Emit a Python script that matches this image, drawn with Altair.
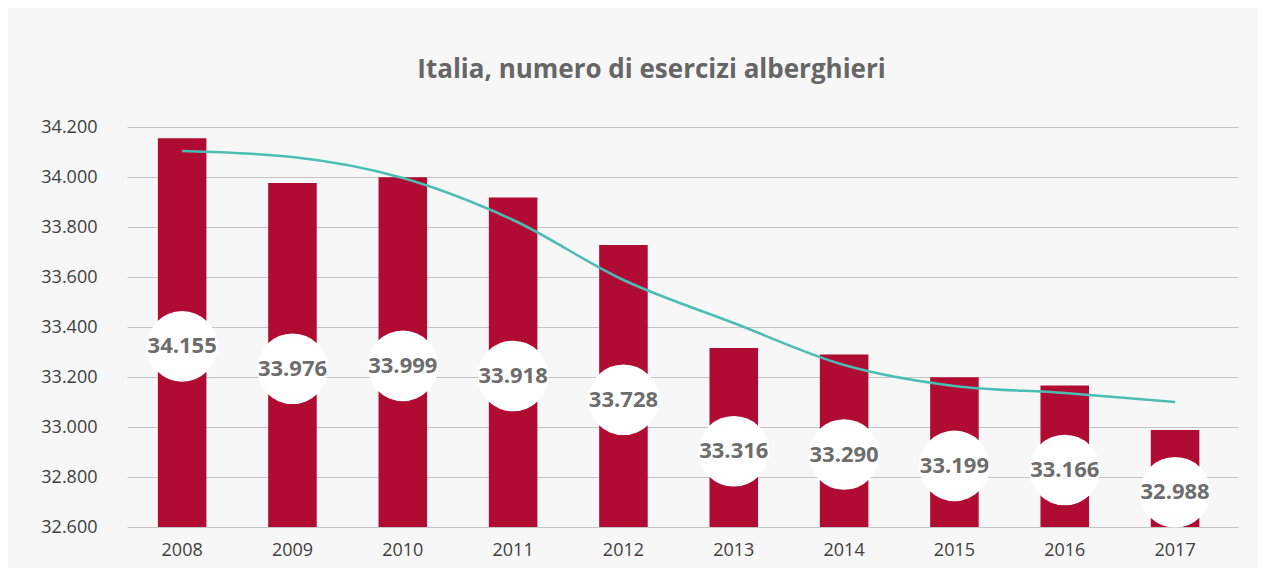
import altair as alt
import pandas as pd

years = ["2008", "2009", "2010", "2011", "2012", "2013", "2014", "2015", "2016", "2017"]
values = [34155, 33976, 33999, 33918, 33728, 33316, 33290, 33199, 33166, 32988]
labels = ["34.155", "33.976", "33.999", "33.918", "33.728", "33.316", "33.290", "33.199", "33.166", "32.988"]
trend = [34104, 34080, 33996, 33828, 33588, 33416, 33248, 33164, 33136, 33100]
y_ticks = [32600, 32800, 33000, 33200, 33400, 33600, 33800, 34000, 34200]

df = pd.DataFrame({"anno": years, "valore": values, "etichetta": labels, "trend": trend})

x = alt.X(
    "anno:N",
    title=None,
    scale=alt.Scale(paddingInner=0.56, paddingOuter=0.315, align=0.444),
    axis=alt.Axis(labelAngle=0, ticks=False, domain=False, labelPadding=14,
                  labelFont="Open Sans", labelFontSize=18, labelColor="#404040"),
)
yscale = alt.Scale(domain=[32600, 34200], nice=False, zero=False)
yaxis = alt.Axis(values=y_ticks, grid=True, gridColor="#c4c4c4", gridWidth=1,
                 domain=False, ticks=False, labelPadding=30,
                 labelFont="Open Sans", labelFontSize=18, labelColor="#404040",
                 labelExpr="replace(format(datum.value, ',d'), ',', '.')")

base = alt.Chart(df).encode(x=x)

bars = base.mark_bar(color="#B00B33").encode(
    y=alt.Y("valore:Q", scale=yscale, axis=yaxis, title=None),
    y2=alt.datum(32600),
)

line = base.mark_line(color="#4BBDB4", strokeWidth=2.5, interpolate="monotone").encode(
    y=alt.Y("trend:Q", scale=yscale)
)

lab = base.transform_calculate(ly="(datum.valore + 32600) / 2 - 55")

circles = lab.mark_circle(size=5000, color="white", opacity=1).encode(
    y=alt.Y("ly:Q", scale=yscale)
)

texts = lab.mark_text(font="Open Sans", fontWeight="bold", fontSize=22, color="#6d6d6d",
                      baseline="middle").encode(
    y=alt.Y("ly:Q", scale=yscale),
    text="etichetta:N",
)

chart = alt.layer(bars, line, circles, texts).properties(
    width=1111,
    height=400,
    background="#f7f7f7",
    padding={"left": 119, "top": 119, "right": 20, "bottom": 41},
    autosize=alt.AutoSizeParams(type="none"),
    title=alt.TitleParams(
        "Italia, numero di esercizi alberghieri",
        font="Open Sans", fontSize=26, fontWeight="bold", color="#666666",
        anchor="middle", offset=35, dx=-31,
    ),
).configure_view(stroke=None)

chart.save("out.html", embed_options={"renderer": "svg", "actions": False})
